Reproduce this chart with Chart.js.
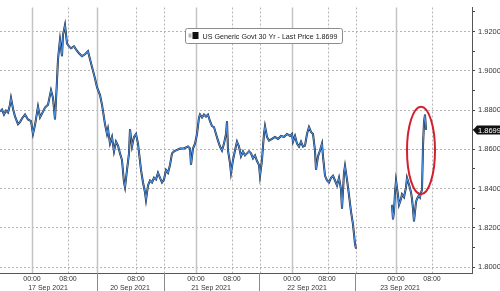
<!DOCTYPE html>
<html lang="en">
<head>
<meta charset="UTF-8">
<title>US Generic Govt 30 Yr</title>
<script src="https://cdn.jsdelivr.net/npm/chart.js"></script>
<style>
  body { margin: 0; background: #fff; }
</style>
</head>
<body>
<canvas id="yieldChart" width="500" height="291"></canvas>
<script>
// intraday slot index (session time, weekend compressed) and 30y yield
const slots = [0,2,4,6,8,10,11,13,15,18,20,22,25,28,31,33,35,38,40,43,45,48,50,51,53,55,57,58,60,62,63,65,67,69,71,74,76,79,82,85,88,90,93,95,97,
  100,102,105,107,108,110,112,114,116,118,120,122,124,125,127,129,130,132,134,136,138,141,143,145,146,148,150,152,154,156,158,160,162,164,166,168,170,172,174,176,180,184,188,190,191,193,195,197,199,
  200,202,204,206,208,210,212,214,216,218,220,222,224,226,227,228,230,231,233,235,237,239,241,243,245,247,249,251,253,255,257,259,260,262,263,264,265,267,269,272,275,278,281,284,287,290,292,293,295,297,299,
  301,303,305,307,309,311,313,315,316,318,320,322,323,325,327,329,331,333,335,337,339,341,342,344,345,347,349,351,353,354,355,356,
  374,
  392,393,394,395,396,398,399,401,402,404,406,407,409,411,412,413,414,416,417,419,420,421,422,423,424,425,426];

const yields = [1.8792,1.8802,1.8777,1.8797,1.8787,1.8827,1.8861,1.8807,1.8767,1.8728,1.8738,1.8757,1.8777,1.8752,1.8743,1.8678,1.8723,1.8817,1.8762,1.8792,1.8812,1.8827,1.8876,1.8901,1.8861,1.8752,1.8950,1.9059,1.9158,1.9074,1.9183,1.9233,1.9139,1.9124,1.9114,1.9124,1.9109,1.9089,1.9074,1.9084,1.9099,1.9059,1.9000,1.8960,1.8916,
  1.8876,1.8827,1.8728,1.8678,1.8703,1.8629,1.8663,1.8589,1.8639,1.8619,1.8579,1.8545,1.8431,1.8406,1.8495,1.8579,1.8703,1.8614,1.8663,1.8678,1.8629,1.8495,1.8431,1.8381,1.8342,1.8416,1.8441,1.8431,1.8455,1.8446,1.8480,1.8455,1.8431,1.8446,1.8495,1.8480,1.8520,1.8579,1.8589,1.8594,1.8604,1.8604,1.8614,1.8604,1.8520,1.8604,1.8629,1.8678,1.8762,
  1.8777,1.8762,1.8777,1.8767,1.8777,1.8743,1.8718,1.8713,1.8678,1.8644,1.8614,1.8594,1.8629,1.8678,1.8743,1.8594,1.8530,1.8480,1.8545,1.8594,1.8639,1.8614,1.8564,1.8589,1.8569,1.8579,1.8589,1.8579,1.8554,1.8569,1.8540,1.8520,1.8465,1.8545,1.8614,1.8678,1.8718,1.8663,1.8644,1.8653,1.8663,1.8653,1.8668,1.8663,1.8678,1.8668,1.8678,1.8639,1.8668,1.8629,1.8614,
  1.8639,1.8614,1.8619,1.8678,1.8713,1.8688,1.8678,1.8594,1.8495,1.8564,1.8594,1.8629,1.8564,1.8465,1.8441,1.8431,1.8455,1.8465,1.8441,1.8416,1.8455,1.8396,1.8297,1.8480,1.8515,1.8446,1.8366,1.8282,1.8218,1.8168,1.8119,1.8094,
  null,
  1.8317,1.8243,1.8282,1.8381,1.8441,1.8366,1.8317,1.8347,1.8371,1.8356,1.8406,1.8455,1.8421,1.8381,1.8347,1.8297,1.8233,1.8332,1.8347,1.8366,1.8356,1.8381,1.8391,1.8614,1.8738,1.8777,1.8699];

// x axis labels
const timeTickSlots = [32, 68, 136, 196, 232, 292, 327, 396, 432];
const timeTickLabels = ['00:00','08:00','08:00','00:00','08:00','00:00','08:00','00:00','08:00'];
const dateTickSlots = [48, 130, 211, 307, 400];
const dateTickLabels = ['17 Sep 2021','20 Sep 2021','21 Sep 2021','22 Sep 2021','23 Sep 2021'];
const daySeparators = [97, 164, 259, 355];
const solidGridSlots = [32, 97, 196, 292, 396];
const dottedGridSlots = [68, 136, 164, 232, 260, 328, 356, 432];

// y axis
const yTicks = [1.80,1.81,1.82,1.83,1.84,1.85,1.86,1.87,1.88,1.89,1.90,1.91,1.92,1.93];

const lastPrice = 1.8699;
const legendText = 'US Generic Govt 30 Yr - Last Price 1.8699';
// red highlight ellipse around the final jump
const ellipseSlots = [407, 435];
const ellipseYields = [1.8371, 1.8817];

Chart.defaults.font.family = "'Liberation Sans', Arial, sans-serif";

const points = slots.map((s, i) => ({ x: s, y: yields[i] }));

const isMajor = v => Math.round(v * 100) % 2 === 0;

const extras = {
  id: 'extras',
  beforeDatasetsDraw(chart) {
    const { ctx, chartArea: a, scales: { x } } = chart;
    ctx.save();
    ctx.strokeStyle = '#c4c4c4';
    ctx.lineWidth = 1.5;
    solidGridSlots.forEach(s => {
      const px = Math.round(x.getPixelForValue(s)) + 0.5;
      ctx.beginPath(); ctx.moveTo(px, a.top); ctx.lineTo(px, a.bottom); ctx.stroke();
    });
    ctx.strokeStyle = '#b4b4b4';
    ctx.lineWidth = 1;
    ctx.setLineDash([2, 2]);
    dottedGridSlots.forEach(s => {
      const px = Math.round(x.getPixelForValue(s)) + 0.5;
      ctx.beginPath(); ctx.moveTo(px, a.top); ctx.lineTo(px, a.bottom); ctx.stroke();
    });
    ctx.restore();
  },
  afterDraw(chart) {
    const { ctx, chartArea: a, scales: { x, y } } = chart;
    ctx.save();
    // day separators under the axis
    ctx.strokeStyle = '#8a8a8a';
    ctx.lineWidth = 1;
    daySeparators.forEach(s => {
      const px = Math.round(x.getPixelForValue(s)) + 0.5;
      ctx.beginPath(); ctx.moveTo(px, a.bottom); ctx.lineTo(px, chart.height); ctx.stroke();
    });

    // ellipse
    const x0 = x.getPixelForValue(ellipseSlots[0]), x1 = x.getPixelForValue(ellipseSlots[1]);
    const y0 = y.getPixelForValue(ellipseYields[1]), y1 = y.getPixelForValue(ellipseYields[0]);
    ctx.strokeStyle = '#d3202e';
    ctx.lineWidth = 2;
    ctx.beginPath();
    ctx.ellipse((x0 + x1) / 2, (y0 + y1) / 2, (x1 - x0) / 2, (y1 - y0) / 2, 0, 0, Math.PI * 2);
    ctx.stroke();

    // last price tag
    const ty = Math.round(y.getPixelForValue(lastPrice));
    ctx.fillStyle = '#111';
    ctx.beginPath();
    ctx.moveTo(a.right + 1, ty);
    ctx.lineTo(a.right + 5, ty - 4.5);
    ctx.lineTo(chart.width, ty - 4.5);
    ctx.lineTo(chart.width, ty + 4.5);
    ctx.lineTo(a.right + 5, ty + 4.5);
    ctx.closePath();
    ctx.fill();
    ctx.fillStyle = '#fff';
    ctx.font = "7.5px 'Liberation Sans', Arial, sans-serif";
    ctx.textBaseline = 'middle';
    ctx.textAlign = 'left';
    ctx.fillText(lastPrice.toFixed(4), a.right + 6, ty + 0.5);

    // legend box
    const bx = 185.5, by = 28.5, bw = 157, bh = 15;
    ctx.fillStyle = '#fff';
    ctx.strokeStyle = '#8c8c8c';
    ctx.lineWidth = 1;
    ctx.beginPath();
    ctx.roundRect(bx, by, bw, bh, 2);
    ctx.fill();
    ctx.stroke();
    ctx.fillStyle = '#b8b8b8';
    ctx.fillRect(bx + 3, by + 5, 3, 4);
    ctx.fillStyle = '#111';
    ctx.fillRect(bx + 7, by + 3.5, 6, 7);
    ctx.fillStyle = '#222';
    ctx.font = "7.5px 'Liberation Sans', Arial, sans-serif";
    const tw = ctx.measureText(legendText).width;
    const target = 135;
    ctx.save();
    ctx.translate(bx + 17, by + bh / 2 + 0.5);
    ctx.scale(target / tw, 1);
    ctx.fillText(legendText, 0, 0);
    ctx.restore();
    ctx.restore();
  }
};

new Chart(document.getElementById('yieldChart').getContext('2d'), {
  type: 'line',
  data: {
    datasets: [{
      data: points,
      borderColor: '#4b8fe0',
      borderWidth: 1.1,
      pointRadius: 0,
      spanGaps: false,
      tension: 0
    }, {
      data: points,
      borderColor: '#1a2030',
      borderWidth: 2,
      pointRadius: 0,
      spanGaps: false,
      tension: 0
    }]
  },
  options: {
    responsive: false,
    animation: false,
    devicePixelRatio: 1,
    layout: { padding: 0 },
    plugins: { legend: { display: false }, tooltip: { enabled: false } },
    scales: {
      x: {
        type: 'linear',
        min: 0,
        max: 472,
        grid: { display: false, drawTicks: false },
        border: { display: true, color: '#555', width: 1 },
        afterFit: s => { s.height = 18; },
        afterBuildTicks: s => {
          s.ticks = timeTickSlots.concat(dateTickSlots).sort((a, b) => a - b).map(v => ({ value: v }));
        },
        ticks: {
          autoSkip: false,
          maxRotation: 0,
          minRotation: 0,
          padding: 1,
          color: '#333',
          font: { size: 7, lineHeight: 1.35 },
          callback: v => {
            const ti = timeTickSlots.indexOf(v);
            if (ti >= 0) return timeTickLabels[ti];
            const di = dateTickSlots.indexOf(v);
            return ['', dateTickLabels[di]];
          }
        }
      },
      y: {
        position: 'right',
        min: 1.797,
        max: 1.9322,
        afterFit: s => { s.width = 28; },
        afterBuildTicks: s => { s.ticks = yTicks.map(v => ({ value: v })); },
        border: { display: true, color: '#555', width: 1, dash: [2, 2] },
        grid: {
          color: c => isMajor(c.tick.value) ? '#b4b4b4' : 'rgba(0,0,0,0)',
          tickColor: '#444',
          tickLength: 3,
          lineWidth: 1
        },
        ticks: {
          padding: 3,
          color: '#333',
          font: { size: 7.5 },
          callback: v => isMajor(v) ? v.toFixed(4) : ''
        }
      }
    }
  },
  plugins: [extras]
});
</script>
</body>
</html>
